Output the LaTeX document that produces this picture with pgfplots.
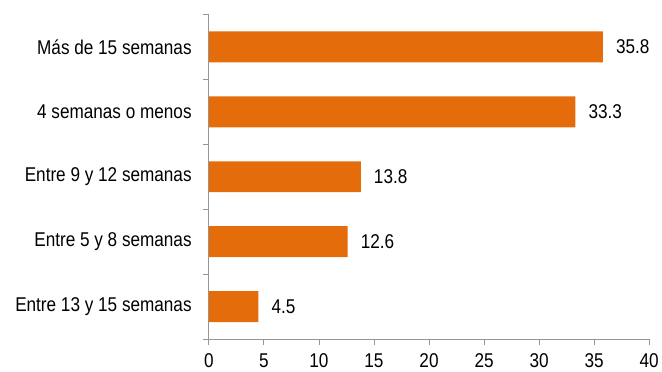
\documentclass[border=0pt]{standalone}
\usepackage{fontspec}
\setmainfont{Liberation Sans}[FakeStretch=0.86]
\usepackage{pgfplots}
\pgfplotsset{compat=1.18}
\definecolor{barc}{RGB}{228,108,10}
\definecolor{axc}{RGB}{150,150,150}
\newcommand{\lbl}{\fontsize{20bp}{24bp}\selectfont}
\begin{document}
\begin{tikzpicture}
\begin{axis}[
  name=ax,
  scale only axis,
  width=441.5bp, height=325.5bp,
  xbar, bar width=31bp,
  xmin=0, xmax=40,
  ymin=-0.5, ymax=4.5,
  xtick={0,5,...,40},
  ytick={0,1,2,3,4},
  yticklabels={Entre 13 y 15 semanas, Entre 5 y 8 semanas, Entre 9 y 12 semanas, 4 semanas o menos, Más de 15 semanas},
  minor ytick={-0.5,0.5,...,4.5},
  axis x line*=bottom,
  axis y line*=left,
  axis line style={draw=axc, line width=0.9bp},
  tick align=outside,
  major tick length=6bp,
  minor tick length=6bp,
  xtick style={draw=axc, line width=0.9bp},
  ytick style={draw=none},
  minor y tick style={draw=axc, line width=0.9bp},
  /pgf/number format/assume math mode=true,
  tick label style={font=\lbl, text=black},
  xticklabel style={yshift=-5.3bp},
  yticklabel style={xshift=-7.8bp},
  nodes near coords,
  nodes near coords style={font=\lbl, anchor=west, xshift=9.7bp, text=black,
    /pgf/number format/.cd, fixed, precision=1, fixed zerofill, assume math mode=true},
  clip=false,
]
\addplot[fill=barc, draw=none] coordinates {(4.5,0) (12.6,1) (13.8,2) (33.3,3) (35.8,4)};
\end{axis}
\path ([shift={(-209.5bp,-33bp)}]ax.south west) rectangle ([shift={(11bp,14.5bp)}]ax.north east);
\end{tikzpicture}
\end{document}
